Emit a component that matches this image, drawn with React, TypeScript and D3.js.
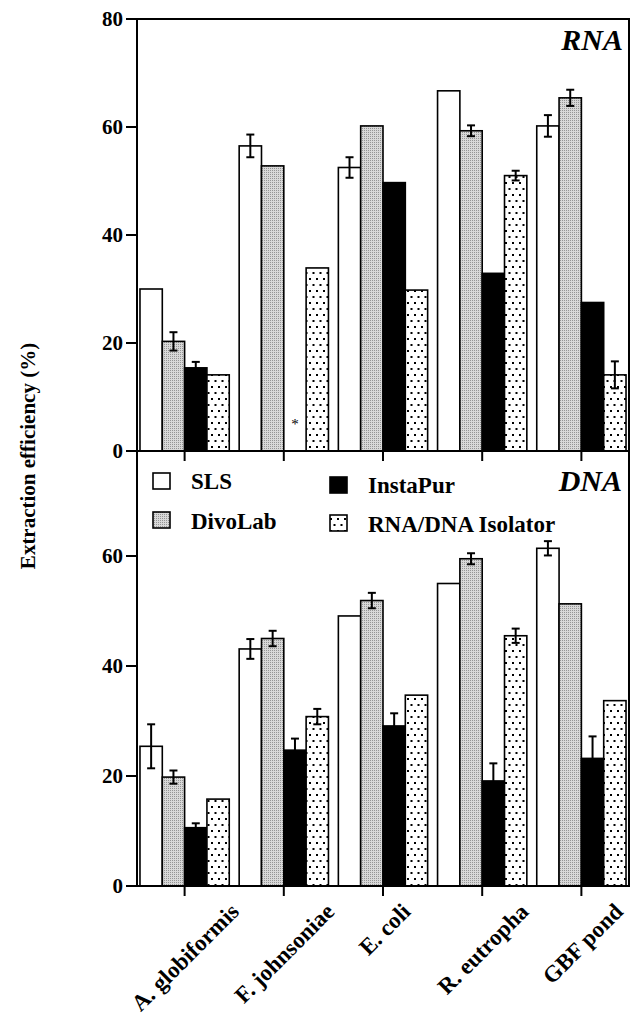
import React from 'react';
import * as d3 from 'd3';

const categories = ["A. globiformis", "F. johnsoniae", "E. coli", "R. eutropha", "GBF pond"];
const seriesNames = ["SLS", "DivoLab", "InstaPur", "RNA/DNA Isolator"];
const rnaTicks = [0, 20, 40, 60, 80];
const dnaTicks = [0, 20, 40, 60];

// RNA panel
const rnaSLS = [30, 56.5, 52.5, 66.7, 60.2];
const rnaSLSErr = [0, 2.1, 1.9, 0, 2.0];
const rnaDivo = [20.3, 52.8, 60.2, 59.3, 65.4];
const rnaDivoErr = [1.7, 0, 0, 1.0, 1.5];
const rnaInsta = [15.4, 0, 49.7, 32.9, 27.5];
const rnaInstaErr = [1.1, 0, 0, 0, 0];
const rnaIso = [14.1, 33.9, 29.8, 51.0, 14.1];
const rnaIsoErr = [0, 0, 0, 0.9, 2.5];

// DNA panel
const dnaSLS = [25.4, 43.1, 49.1, 55.0, 61.4];
const dnaSLSErr = [4.0, 1.8, 0, 0, 1.3];
const dnaDivo = [19.8, 45.0, 51.9, 59.5, 51.3];
const dnaDivoErr = [1.2, 1.4, 1.4, 1.0, 0];
const dnaInsta = [10.6, 24.7, 29.1, 19.1, 23.2];
const dnaInstaErr = [0.8, 2.1, 2.3, 3.2, 4.0];
const dnaIso = [15.8, 30.8, 34.7, 45.5, 33.7];
const dnaIsoErr = [0, 1.4, 0, 1.3, 0];

const W = 632;
const H = 1017;
const left = 137;
const right = 629;
const serif = "'Liberation Serif', 'Times New Roman', serif";
const fills = ["#ffffff", "url(#grayTex)", "#000000", "url(#dotTex)"];

const x0 = d3.scaleBand<string>().domain(categories).range([left, right]).paddingInner(0.1).paddingOuter(0.03);
const x1 = d3.scaleBand<string>().domain(seriesNames).range([0, x0.bandwidth()]);

const yRna = d3.scaleLinear().domain([0, 80]).range([451, 19]);
const yDna = d3.scaleLinear().domain([0, 80]).range([886, 446]);

function measure(txt: string, font: string) {
  const ctx = document.createElement('canvas').getContext('2d');
  if (!ctx) return txt.length * 10;
  ctx.font = font;
  return ctx.measureText(txt).width;
}

function Bars({ vals, errs, y }: { vals: number[][]; errs: number[][]; y: d3.ScaleLinear<number, number> }) {
  const base = y(0);
  return (
    <g>
      {seriesNames.map((s, si) => (
        <g key={s} fill={fills[si]} stroke="#000" strokeWidth={1.6}>
          {categories.map((c, ci) => {
            const v = vals[si][ci];
            if (v <= 0) return null;
            return <rect key={c} x={x0(c)! + x1(s)!} y={y(v)} width={x1.bandwidth()} height={base - y(v)} />;
          })}
        </g>
      ))}
      {seriesNames.map((s, si) => (
        <g key={s + "e"} stroke="#000" strokeWidth={2}>
          {categories.map((c, ci) => {
            const v = vals[si][ci];
            const e = errs[si][ci];
            if (!e) return null;
            const cx = x0(c)! + x1(s)! + x1.bandwidth() / 2;
            const hi = y(v + e);
            const lo = y(v - e);
            return (
              <g key={c}>
                <line x1={cx} x2={cx} y1={hi} y2={lo} />
                <line x1={cx - 4} x2={cx + 4} y1={hi} y2={hi} />
                <line x1={cx - 4} x2={cx + 4} y1={lo} y2={lo} />
              </g>
            );
          })}
        </g>
      ))}
    </g>
  );
}

function YAxis({ y, ticks }: { y: d3.ScaleLinear<number, number>; ticks: number[] }) {
  return (
    <g>
      {ticks.map(t => (
        <g key={t}>
          <line x1={126} x2={left} y1={y(t)} y2={y(t)} stroke="#000" strokeWidth={2} />
          <text x={123} y={y(t)} dy="0.34em" textAnchor="end" fontFamily={serif} fontWeight="bold" fontSize={21}>{t}</text>
        </g>
      ))}
    </g>
  );
}

function XTicks({ at }: { at: number }) {
  return (
    <g stroke="#000" strokeWidth={2}>
      {categories.map(c => {
        const cx = x0(c)! + x0.bandwidth() / 2;
        return <line key={c} x1={cx} x2={cx} y1={at} y2={at + 10} />;
      })}
    </g>
  );
}

export default function App() {
  const labelSize = 23;
  const labelFont = `bold ${labelSize}px 'Liberation Serif'`;
  const legend = [
    { name: seriesNames[0], bx: 153, by: 473, ty: 489 },
    { name: seriesNames[1], bx: 153, by: 512, ty: 529 },
    { name: seriesNames[2], bx: 330, by: 477, ty: 493 },
    { name: seriesNames[3], bx: 330, by: 515, ty: 532 },
  ];
  return (
    <svg width={W} height={H} style={{ position: 'absolute', left: 0, top: 0, background: '#fff' }}>
      <defs>
        <pattern id="grayTex" width={2} height={2} patternUnits="userSpaceOnUse">
          <rect width={2} height={2} fill="#d8d8d8" />
          <rect width={1} height={1} fill="#949494" />
        </pattern>
        <pattern id="dotTex" width={7} height={12} patternUnits="userSpaceOnUse">
          <rect width={7} height={12} fill="#fff" />
          <rect x={1} y={2} width={2} height={2} fill="#000" />
          <rect x={4.5} y={8} width={2} height={2} fill="#000" />
        </pattern>
      </defs>

      <Bars vals={[rnaSLS, rnaDivo, rnaInsta, rnaIso]} errs={[rnaSLSErr, rnaDivoErr, rnaInstaErr, rnaIsoErr]} y={yRna} />
      <Bars vals={[dnaSLS, dnaDivo, dnaInsta, dnaIso]} errs={[dnaSLSErr, dnaDivoErr, dnaInstaErr, dnaIsoErr]} y={yDna} />

      <text x={x0(categories[1])! + x1(seriesNames[2])! + x1.bandwidth() / 2} y={yRna(0) - 22}
        textAnchor="middle" fontFamily={serif} fontSize={15} fill="#000">*</text>

      {/* frame */}
      <g stroke="#000" strokeWidth={2} fill="none">
        <line x1={left} x2={right} y1={19} y2={19} />
        <line x1={left} x2={right} y1={451} y2={451} />
        <line x1={left} x2={right} y1={886} y2={886} />
        <line x1={left} x2={left} y1={18} y2={887} />
        <line x1={right} x2={right} y1={18} y2={887} />
      </g>
      <YAxis y={yRna} ticks={rnaTicks} />
      <YAxis y={yDna} ticks={dnaTicks} />
      <XTicks at={451} />
      <XTicks at={886} />

      <text x={623} y={50} textAnchor="end" fontFamily={serif} fontWeight="bold" fontStyle="italic" fontSize={30}>RNA</text>
      <text x={622} y={491} textAnchor="end" fontFamily={serif} fontWeight="bold" fontStyle="italic" fontSize={30}>DNA</text>

      {legend.map((l, i) => (
        <g key={l.name}>
          <rect x={l.bx} y={l.by} width={17} height={16} fill={fills[i]} stroke="#000" strokeWidth={1.6} />
          <text x={l.bx + 38} y={l.ty} fontFamily={serif} fontWeight="bold" fontSize={23}>{l.name}</text>
        </g>
      ))}

      {categories.map(c => {
        const cx = x0(c)! + x0.bandwidth() / 2;
        const len = measure(c, labelFont);
        const ex = cx + 8 + 0.339 * len;
        const ey = 913;
        return (
          <text key={c} x={ex} y={ey} textAnchor="end" transform={`rotate(-45 ${ex} ${ey})`}
            fontFamily={serif} fontWeight="bold" fontSize={labelSize}>{c}</text>
        );
      })}

      <text x={35} y={456} textAnchor="middle" transform="rotate(-90 35 456)"
        fontFamily={serif} fontWeight="bold" fontSize={21}>Extraction efficiency (%)</text>
    </svg>
  );
}
